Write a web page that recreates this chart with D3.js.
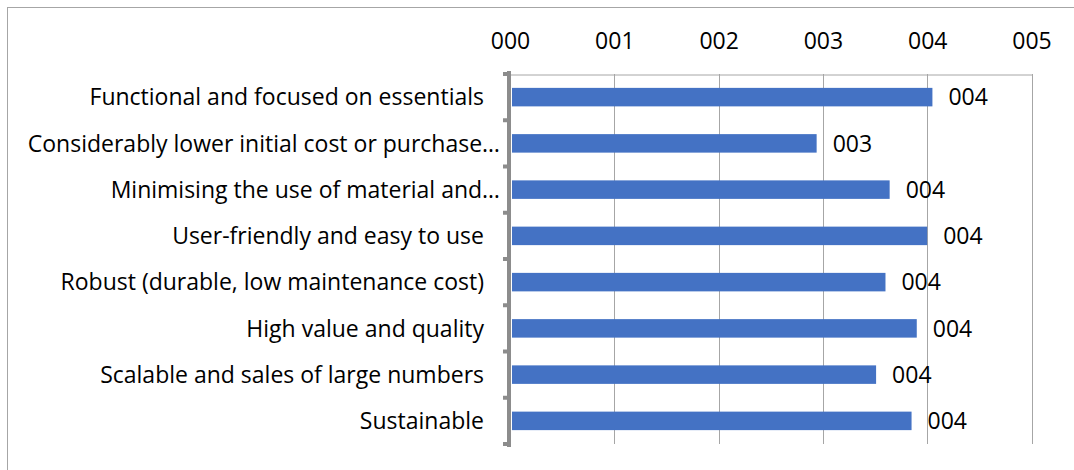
<!DOCTYPE html>
<html><head><meta charset="utf-8">
<script src="https://cdn.jsdelivr.net/npm/d3@7"></script>
<style>
html,body{margin:0;padding:0;background:#fff;}
svg{display:block;font-family:"Open Sans",sans-serif;}
</style></head>
<body><svg id="c" width="1074" height="470"></svg>
<script>
const categories = [
  "Functional and focused on essentials",
  "Considerably lower initial cost or purchase…",
  "Minimising the use of material and…",
  "User-friendly and easy to use",
  "Robust (durable, low maintenance cost)",
  "High value and quality",
  "Scalable and sales of large numbers",
  "Sustainable"
];
const values = [4.05, 2.94, 3.64, 4.0, 3.60, 3.90, 3.51, 3.85];
const xTicks = [0, 1, 2, 3, 4, 5];

const svg = d3.select("#c");
const W = 1074, H = 470;
const plot = {left: 510, right: 1031.5, top: 74, bottom: 444};
const fs = 23;

// outer border
svg.append("rect").attr("x", 7.5).attr("y", 7.5).attr("width", W).attr("height", H)
  .attr("fill", "none").attr("stroke", "#a6a6a6").attr("stroke-width", 1);

const x = d3.scaleLinear().domain([0, 5]).range([plot.left, plot.right]);
const y = d3.scaleBand().domain(categories).range([plot.top, plot.bottom]).paddingInner(0.6).paddingOuter(0.3);
const fmt = d3.format("03.0f");

// gridlines
svg.append("g").selectAll("line").data(xTicks).join("line")
  .attr("x1", d => Math.round(x(d)) + 0.5).attr("x2", d => Math.round(x(d)) + 0.5)
  .attr("y1", plot.top).attr("y2", plot.bottom)
  .attr("stroke", "#a6a6a6").attr("stroke-width", 1);

// top axis
const xAxis = d3.axisTop(x).tickValues(xTicks).tickFormat(fmt).tickSize(0).tickPadding(0);
const gx = svg.append("g").attr("transform", `translate(0,${plot.top + 0.5})`).call(xAxis);
gx.select(".domain").attr("stroke", "#a6a6a6").attr("stroke-width", 1);
gx.selectAll("text").attr("font-size", fs).attr("font-family", "Open Sans, sans-serif")
  .attr("fill", "#000").attr("y", -26);

// bars
svg.append("g").selectAll("rect").data(values).join("rect")
  .attr("x", x(0) + 2)
  .attr("y", (d, i) => y(categories[i]))
  .attr("width", d => x(d) - x(0) - 2)
  .attr("height", y.bandwidth())
  .attr("fill", "#4472c4");

// data labels
svg.append("g").selectAll("text").data(values).join("text")
  .attr("x", d => x(d) + 16)
  .attr("y", (d, i) => y(categories[i]) + y.bandwidth() / 2)
  .attr("dy", "0.36em")
  .attr("font-size", fs).attr("fill", "#000")
  .text(d => fmt(d));

// left axis
const yAxis = d3.axisLeft(y).tickSize(0).tickFormat("");
const gy = svg.append("g").attr("transform", `translate(${plot.left - 1},0)`).call(yAxis);
gy.select(".domain").remove();
const bounds = d3.range(categories.length + 1).map(i => plot.top + i * (plot.bottom - plot.top) / categories.length);
gy.append("line").attr("x1", 0).attr("x2", 0).attr("y1", plot.top - 3).attr("y2", plot.bottom + 3)
  .attr("stroke", "#8c8c8c").attr("stroke-width", 4);
gy.selectAll("line.tk").data(bounds).join("line").attr("class", "tk")
  .attr("x1", -6).attr("x2", 0).attr("y1", d => d).attr("y2", d => d)
  .attr("stroke", "#8c8c8c").attr("stroke-width", 4);

// category labels
svg.append("g").selectAll("text").data(categories).join("text")
  .attr("x", d => d.endsWith("…") ? 500 : 484)
  .attr("y", d => y(d) + y.bandwidth() / 2)
  .attr("dy", "0.36em")
  .attr("text-anchor", "end")
  .attr("font-size", fs).attr("fill", "#000")
  .text(d => d);
</script></body></html>
